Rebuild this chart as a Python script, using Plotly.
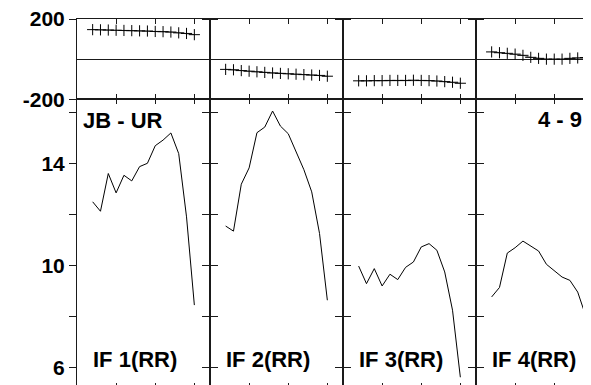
import plotly.graph_objects as go

channels = list(range(2, 16))
panel_labels = ["IF 1(RR)", "IF 2(RR)", "IF 3(RR)", "IF 4(RR)"]
baseline_label = "JB - UR"
time_label = "4 - 9"

amp1 = [12.49, 12.12, 13.60, 12.84, 13.53, 13.31, 13.87, 14.0, 14.69, 14.91, 15.19, 14.38, 11.9, 8.44]
amp2 = [11.54, 11.34, 13.18, 13.82, 15.2, 15.42, 16.05, 15.46, 15.16, 14.44, 13.75, 12.88, 11.25, 8.63]
amp3 = [9.97, 9.28, 9.87, 9.19, 9.65, 9.44, 9.92, 10.13, 10.72, 10.85, 10.59, 9.74, 8.24, 5.61]
amp4 = [8.76, 9.13, 10.48, 10.69, 10.95, 10.76, 10.56, 10.04, 9.78, 9.54, 9.41, 8.95, 8.04, 6.2]

ph1 = [147, 146, 145, 144, 143, 142, 141, 140, 138, 137, 135, 131, 128, 122]
ph2 = [-51, -53, -57, -60, -63, -66, -69, -71, -73, -75, -77, -79, -81, -85]
ph3 = [-108, -108, -107, -107, -106, -106, -106, -105, -106, -107, -109, -112, -115, -120]
ph4 = [36, 32, 29, 25, 19, 9, 4, 0, 0, 0, 4, 6, 8, 9]

amps = [amp1, amp2, amp3, amp4]
phases = [ph1, ph2, ph3, ph4]

amp_ticks = [6, 8, 10, 12, 14, 16]
amp_ticktext = ["6", "", "10", "", "14", ""]
phase_ticks = [-200, 200]
phase_ticktext = ["-200", "200"]
chan_ticks = [5, 10, 15]

W, H = 591, 385
OFF = 8.0  # page body margin offset
left0 = 77.0 - OFF
pw = 133.0
ppu = pw / 17.0
top_px = 19.0 - OFF
split_px = 99.3 - OFF
bottom_px = 388.0 - OFF
px_per_amp = 25.5
amp_top = 16.51
amp_bottom = amp_top - (bottom_px - split_px) / px_per_amp

y_top = 1 - top_px / H
y_split = 1 - split_px / H
y_bot = 1 - bottom_px / H

FONT = "Liberation Sans, Arial, sans-serif"
LINEC = "#1a1a1a"

fig = go.Figure()
for i in range(4):
    n = i + 1
    xa_t, ya_t = f"x{n}", f"y{n}"
    xa_b, ya_b = f"x{n+4}", f"y{n+4}"
    fig.add_trace(go.Scatter(
        x=channels, y=phases[i], xaxis=xa_t, yaxis=ya_t, mode="lines+markers",
        line=dict(color="#555555", width=0.8),
        marker=dict(symbol="cross-thin", size=8, line=dict(color="black", width=1)),
        showlegend=False, hoverinfo="skip"))
    fig.add_trace(go.Scatter(
        x=channels, y=amps[i], xaxis=xa_b, yaxis=ya_b, mode="lines",
        line=dict(color="black", width=1),
        showlegend=False, hoverinfo="skip"))

    x0 = (left0 + pw * i) / W
    if i < 3:
        x1 = (left0 + pw * (i + 1)) / W
        xr = [0, 17]
    else:
        x1 = 1.0
        xr = [0, (W - (left0 + pw * i)) / ppu]
    mirror_y = "ticks" if i < 3 else False

    sfx_t = "" if n == 1 else str(n)
    sfx_b = str(n + 4)
    common_x = dict(domain=[x0, x1], range=xr, tickvals=chan_ticks, ticks="inside",
                    ticklen=5, tickcolor=LINEC, showline=True, linecolor=LINEC,
                    linewidth=1, mirror="ticks", showticklabels=False,
                    showgrid=False, zeroline=False, fixedrange=True, automargin=False)
    fig.layout["xaxis" + sfx_t] = dict(common_x, anchor=ya_t)
    fig.layout["xaxis" + sfx_b] = dict(common_x, anchor=ya_b)

    common_y = dict(ticks="outside", ticklen=7, tickcolor=LINEC, showline=True,
                    linecolor=LINEC, linewidth=1, mirror=mirror_y, showgrid=False,
                    showticklabels=(i == 0), fixedrange=True, automargin=False,
                    ticklabeloverflow="allow",
                    tickfont=dict(family=FONT, size=21, color="black", weight="bold"))
    fig.layout["yaxis" + sfx_t] = dict(common_y, anchor=xa_t, domain=[y_split, y_top],
                                       range=[-200, 200], tickvals=phase_ticks,
                                       ticktext=phase_ticktext, zeroline=True,
                                       zerolinecolor=LINEC, zerolinewidth=1)
    fig.layout["yaxis" + sfx_b] = dict(common_y, anchor=xa_b, domain=[y_bot, y_split],
                                       range=[amp_bottom, amp_top], tickvals=amp_ticks,
                                       ticktext=amp_ticktext, zeroline=False)

    fig.add_annotation(text=panel_labels[i], xref="paper", yref="paper",
                       x=(left0 + pw * i + 14) / W, y=1 - (359 - OFF) / H,
                       xanchor="left", yanchor="middle", showarrow=False,
                       font=dict(family=FONT, size=22, color="black", weight="bold"))

fig.add_annotation(text=baseline_label, xref="paper", yref="paper",
                   x=(81 - OFF) / W, y=1 - (120 - OFF) / H, xanchor="left", yanchor="middle",
                   showarrow=False,
                   font=dict(family=FONT, size=22, color="black", weight="bold"))
fig.add_annotation(text=time_label, xref="paper", yref="paper",
                   x=(584 - OFF) / W, y=1 - (119 - OFF) / H, xanchor="right", yanchor="middle",
                   showarrow=False,
                   font=dict(family=FONT, size=22, color="black", weight="bold"))

fig.update_layout(width=W, height=H, margin=dict(l=0, r=0, t=0, b=0, autoexpand=False),
                  paper_bgcolor="white", plot_bgcolor="white")

fig.write_html("out.html")
